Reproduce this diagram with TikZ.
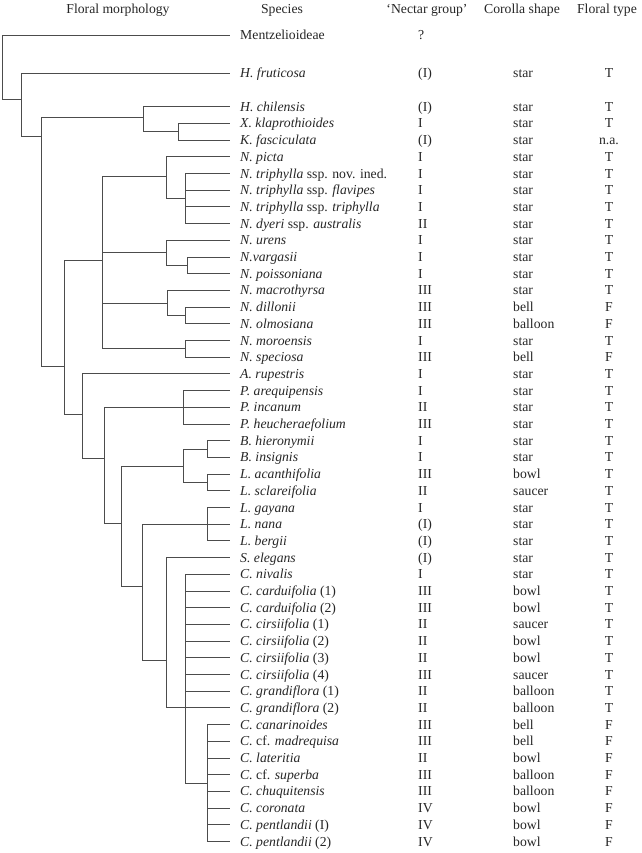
\documentclass[tikz,border=0pt]{standalone}
\usepackage{fontspec}
\setmainfont{Liberation Serif}
\usepackage{tikz}
\tikzset{
    cell/.style={inner sep=0pt, text height=7.7pt, text depth=0pt, text=black!85, font=\fontsize{11.7}{14}\selectfont},
    leaf/.style={cell, anchor=west, inner xsep=0.3cm},
    column/.style={cell, anchor=west},
    header/.style={cell, anchor=center},
    branch/.style={line width=0.8pt, draw=black!70}
}

\begin{document}
\begin{tikzpicture}[x=0.03cm, y=-0.03cm]
        \useasboundingbox (0,0) rectangle (641,853);

        % Intestazioni
        \node (hmorph) [header] at (118,8.5) {Floral morphology};
        \node (hspec) [header] at (282,8.5) {Species};
        \node (hnect) [header] at (427,8.5) {`Nectar group'};
        \node (hcor) [header] at (522,8.5) {Corolla shape};
        \node (htype) [header] at (607,8.5) {Floral type};

        % Gruppi esterni
        \node (mentz) [leaf] at (230,35) {Mentzelioideae};
        \node (mentzng) [column] at (418,35) {?};
        \node (fruti) [leaf] at (230,73) {\textit{H. fruticosa}};
        \node (fruting) [column] at (418,73) {(I)};
        \node (frutics) [column] at (513,73) {star};
        \node (frutift) [header] at (609,73) {T};

        % Righe della tabella
        \foreach \sp/\ng/\cs/\ft [count=\i] in {
            {\textit{H. chilensis}}/(I)/star/T,
            {\textit{X. klaprothioides}}/I/star/T,
            {\textit{K. fasciculata}}/(I)/star/n.a.,
            {\textit{N. picta}}/I/star/T,
            {\textit{N. triphylla} ssp. nov. ined.}/I/star/T,
            {\textit{N. triphylla} ssp. \textit{flavipes}}/I/star/T,
            {\textit{N. triphylla} ssp. \textit{triphylla}}/I/star/T,
            {\textit{N. dyeri} ssp. \textit{australis}}/II/star/T,
            {\textit{N. urens}}/I/star/T,
            {\textit{N.vargasii}}/I/star/T,
            {\textit{N. poissoniana}}/I/star/T,
            {\textit{N. macrothyrsa}}/III/star/T,
            {\textit{N. dillonii}}/III/bell/F,
            {\textit{N. olmosiana}}/III/balloon/F,
            {\textit{N. moroensis}}/I/star/T,
            {\textit{N. speciosa}}/III/bell/F,
            {\textit{A. rupestris}}/I/star/T,
            {\textit{P. arequipensis}}/I/star/T,
            {\textit{P. incanum}}/II/star/T,
            {\textit{P. heucheraefolium}}/III/star/T,
            {\textit{B. hieronymii}}/I/star/T,
            {\textit{B. insignis}}/I/star/T,
            {\textit{L. acanthifolia}}/III/bowl/T,
            {\textit{L. sclareifolia}}/II/saucer/T,
            {\textit{L. gayana}}/I/star/T,
            {\textit{L. nana}}/(I)/star/T,
            {\textit{L. bergii}}/(I)/star/T,
            {\textit{S. elegans}}/(I)/star/T,
            {\textit{C. nivalis}}/I/star/T,
            {\textit{C. carduifolia} (1)}/III/bowl/T,
            {\textit{C. carduifolia} (2)}/III/bowl/T,
            {\textit{C. cirsiifolia} (1)}/II/saucer/T,
            {\textit{C. cirsiifolia} (2)}/II/bowl/T,
            {\textit{C. cirsiifolia} (3)}/II/bowl/T,
            {\textit{C. cirsiifolia} (4)}/III/saucer/T,
            {\textit{C. grandiflora} (1)}/II/balloon/T,
            {\textit{C. grandiflora} (2)}/II/balloon/T,
            {\textit{C. canarinoides}}/III/bell/F,
            {\textit{C.} cf. \textit{madrequisa}}/III/bell/F,
            {\textit{C. lateritia}}/II/bowl/F,
            {\textit{C.} cf. \textit{superba}}/III/balloon/F,
            {\textit{C. chuquitensis}}/III/balloon/F,
            {\textit{C. coronata}}/IV/bowl/F,
            {\textit{C. pentlandii} (I)}/IV/bowl/F,
            {\textit{C. pentlandii} (2)}/IV/bowl/F}{
            \node (sp\i) [leaf] at (230,{106.7+(\i-1)*16.7}) {\sp};
            \node (ng\i) [column] at (418,{106.7+(\i-1)*16.7}) {\ng};
            \node (cs\i) [column] at (513,{106.7+(\i-1)*16.7}) {\cs};
            \node (ft\i) [header] at (609,{106.7+(\i-1)*16.7}) {\ft};
        }

        % Nodi interni dell'albero
        \coordinate (root) at (2,99);
        \coordinate (loasoid) at (21,99);
        \coordinate (core) at (41,136);
        \coordinate (kiss) at (143,117);
        \coordinate (kissX) at (178,131.75);
        \coordinate (back) at (64,366);
        \coordinate (nasa) at (102,260);
        \coordinate (picta) at (166,176);
        \coordinate (triph) at (185,198.55);
        \coordinate (urens) at (166,252);
        \coordinate (varg) at (187,265.35);
        \coordinate (macro) at (167,303);
        \coordinate (dill) at (185,315.45);
        \coordinate (moro) at (185,348.85);
        \coordinate (upper) at (82,414);
        \coordinate (pres) at (104,458);
        \coordinate (presl) at (183,407.3);
        \coordinate (rest) at (121,523);
        \coordinate (blum) at (183,466);
        \coordinate (blumB) at (207,449.05);
        \coordinate (blumL) at (207,482.45);
        \coordinate (loasa) at (142,586);
        \coordinate (loasaL) at (207,524.2);
        \coordinate (scyph) at (166,660);
        \coordinate (caio) at (185,707.9);
        \coordinate (caioF) at (207,783);

        % Rami
        \draw [branch] (root) |- (mentz.west) (root) |- (loasoid);
        \draw [branch] (loasoid) |- (fruti.west) (loasoid) |- (core);
        \draw [branch] (core) |- (kiss) (core) |- (back);
        \draw [branch] (kiss) |- (sp1.west) (kiss) |- (kissX);
        \draw [branch] (kissX) |- (sp2.west) (kissX) |- (sp3.west);
        \draw [branch] (back) |- (nasa) (back) |- (upper);
        \draw [branch] (nasa) |- (picta) (nasa) |- (urens) (nasa) |- (macro) (nasa) |- (moro);
        \draw [branch] (picta) |- (sp4.west) (picta) |- (triph);
        \foreach \k in {5,...,8} \draw [branch] (triph) |- (sp\k.west);
        \draw [branch] (urens) |- (sp9.west) (urens) |- (varg);
        \draw [branch] (varg) |- (sp10.west) (varg) |- (sp11.west);
        \draw [branch] (macro) |- (sp12.west) (macro) |- (dill);
        \draw [branch] (dill) |- (sp13.west) (dill) |- (sp14.west);
        \draw [branch] (moro) |- (sp15.west) (moro) |- (sp16.west);
        \draw [branch] (upper) |- (sp17.west) (upper) |- (pres);
        \draw [branch] (pres) |- (presl) (pres) |- (rest);
        \foreach \k in {18,19,20} \draw [branch] (presl) |- (sp\k.west);
        \draw [branch] (rest) |- (blum) (rest) |- (loasa);
        \draw [branch] (blum) |- (blumB) (blum) |- (blumL);
        \draw [branch] (blumB) |- (sp21.west) (blumB) |- (sp22.west);
        \draw [branch] (blumL) |- (sp23.west) (blumL) |- (sp24.west);
        \draw [branch] (loasa) |- (loasaL) (loasa) |- (scyph);
        \foreach \k in {25,26,27} \draw [branch] (loasaL) |- (sp\k.west);
        \draw [branch] (scyph) |- (sp28.west) (scyph) |- (caio);
        \foreach \k in {29,...,37} \draw [branch] (caio) |- (sp\k.west);
        \draw [branch] (caio) |- (caioF);
        \foreach \k in {38,...,45} \draw [branch] (caioF) |- (sp\k.west);

    \end{tikzpicture}
\end{document}
